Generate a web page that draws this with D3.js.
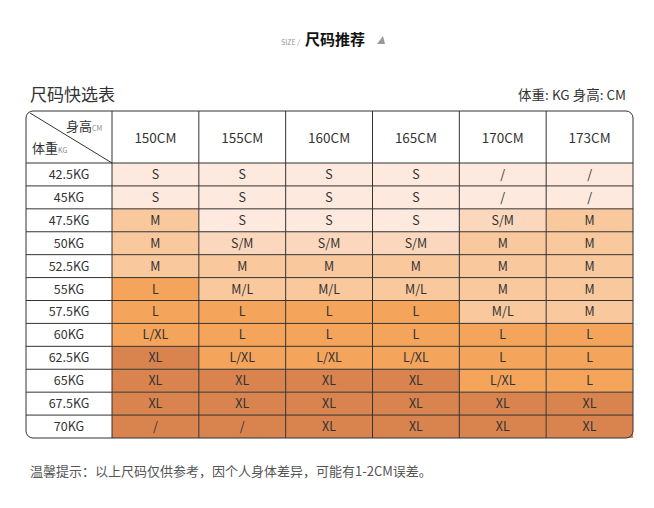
<!DOCTYPE html><html><head><meta charset="utf-8">
<script src="https://cdn.jsdelivr.net/npm/d3@7"></script>
<style>body{margin:0;background:#fff}</style></head><body>
<svg id="c" width="654" height="508"></svg>
<script>
const heights=["150CM","155CM","160CM","165CM","170CM","173CM"];
const weights=["42.5KG","45KG","47.5KG","50KG","52.5KG","55KG","57.5KG","60KG","62.5KG","65KG","67.5KG","70KG"];
const sizes=[
["S","S","S","S","/","/"],
["S","S","S","S","/","/"],
["M","S","S","S","S/M","M"],
["M","S/M","S/M","S/M","M","M"],
["M","M","M","M","M","M"],
["L","M/L","M/L","M/L","M","M"],
["L","L","L","L","M/L","M"],
["L/XL","L","L","L","L","L"],
["XL","L/XL","L/XL","L/XL","L","L"],
["XL","XL","XL","XL","L/XL","L"],
["XL","XL","XL","XL","XL","XL"],
["/","/","XL","XL","XL","XL"]];
const colorOf={"S":"#fde9de","S/M":"#fbd8bd","M":"#f9c89d","M/L":"#f9c89d","L":"#f4a55b","L/XL":"#f4a55b","XL":"#d9844f"};
const F="'Noto Sans CJK SC','Noto Sans',sans-serif";
const svg=d3.select("#c");
const L=26,R=633,T=111,HB=163,B=438,C0=112;
const x=d3.scaleBand().domain(heights).range([C0,R]);
const y=d3.scaleBand().domain(weights).range([HB,B]);
// title
svg.append("text").attr("x",300).attr("y",45).attr("text-anchor","end").attr("font-size",7).attr("fill","#999").attr("font-family",F).text("SIZE /");
svg.append("text").attr("x",305).attr("y",45).attr("font-size",15).attr("font-weight","bold").attr("fill","#111").attr("font-family",F).text("尺码推荐");
svg.append("path").attr("d","M377,44 L383,36 L385,44 Z").attr("fill","#999");
svg.append("text").attr("x",30).attr("y",101).attr("font-size",17).attr("fill","#333").attr("font-family",F).text("尺码快选表");
svg.append("text").attr("x",626).attr("y",100).attr("text-anchor","end").attr("font-size",13.5).attr("fill","#333").attr("font-family",F).text("体重: KG    身高: CM");
// cells
sizes.forEach((row,i)=>row.forEach((s,j)=>{
  let c=s==="/"?(i<6?colorOf.S:colorOf.XL):colorOf[s];
  svg.append("rect").attr("x",x(heights[j])).attr("y",y(weights[i])).attr("width",x.bandwidth()).attr("height",y.bandwidth()).attr("fill",c);
  svg.append("text").attr("x",x(heights[j])+x.bandwidth()/2).attr("y",y(weights[i])+y.bandwidth()/2+4.5).attr("text-anchor","middle").attr("font-size",12.5).attr("fill","#333").attr("font-family",F).text(s);
}));
// grid
const g=svg.append("g").attr("stroke","#333").attr("stroke-width",1).attr("fill","none");
heights.forEach((h,j)=>{g.append("line").attr("x1",x(h)).attr("x2",x(h)).attr("y1",T).attr("y2",B);});
weights.forEach(w=>{g.append("line").attr("x1",L).attr("x2",R).attr("y1",y(w)).attr("y2",y(w));});
g.append("rect").attr("x",L).attr("y",T).attr("width",R-L).attr("height",B-T).attr("rx",7);
g.append("line").attr("x1",L+4).attr("y1",T+2).attr("x2",C0).attr("y2",HB);
// header text
heights.forEach(h=>svg.append("text").attr("x",x(h)+x.bandwidth()/2).attr("y",143).attr("text-anchor","middle").attr("font-size",13.5).attr("fill","#333").attr("font-family",F).text(h));
weights.forEach(w=>svg.append("text").attr("x",(L+C0)/2).attr("y",y(w)+y.bandwidth()/2+4.5).attr("text-anchor","middle").attr("font-size",12.5).attr("fill","#333").attr("font-family",F).text(w));
const t1=svg.append("text").attr("x",66).attr("y",131).attr("font-size",13).attr("fill","#333").attr("font-family",F);
t1.append("tspan").text("身高");t1.append("tspan").attr("font-size",7).attr("fill","#888").text("CM");
const t2=svg.append("text").attr("x",32).attr("y",153).attr("font-size",13).attr("fill","#333").attr("font-family",F);
t2.append("tspan").text("体重");t2.append("tspan").attr("font-size",7).attr("fill","#888").text("KG");
svg.append("text").attr("x",30).attr("y",476).attr("font-size",13).attr("fill","#555").attr("font-family",F).text("温馨提示：以上尺码仅供参考，因个人身体差异，可能有1-2CM误差。");
</script></body></html>
